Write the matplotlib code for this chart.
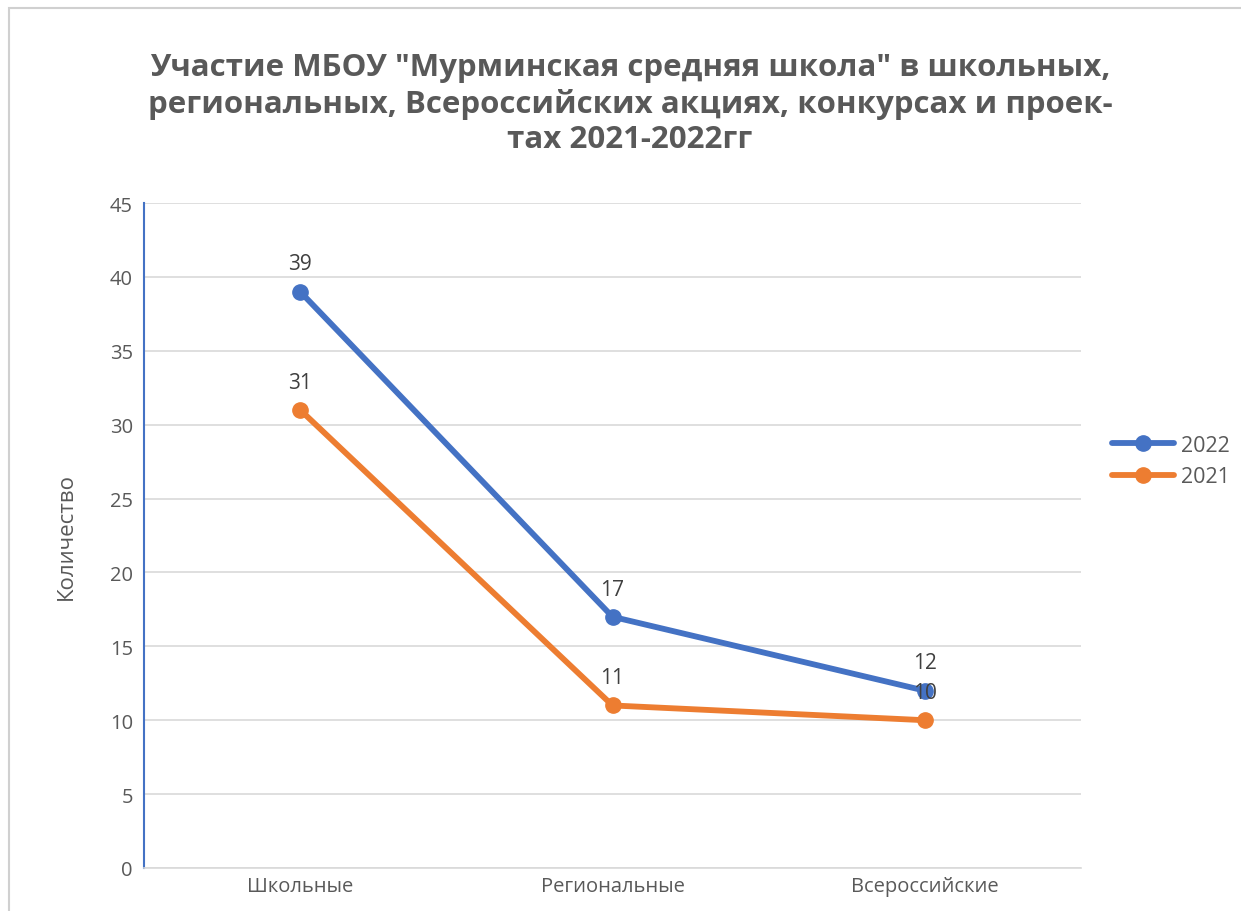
import matplotlib.pyplot as plt
from matplotlib.patches import Rectangle

# --- данные ---
categories = ['Школьные', 'Региональные', 'Всероссийские']
values_2022 = [39, 17, 12]
values_2021 = [31, 11, 10]
series_names = ['2022', '2021']

title = 'Участие МБОУ "Мурминская средняя школа" в школьных,\nрегиональных, Всероссийских акциях, конкурсах и проек-\nтах 2021-2022гг'

BLUE = '#4472C4'
ORANGE = '#ED7D31'
GREY = '#595959'

plt.rcParams['font.family'] = ['Open Sans', 'DejaVu Sans']

fig = plt.figure(figsize=(12.41, 9.12), dpi=100)

# рамка диаграммы
fig.patches.append(Rectangle((9 / 1241, -0.01), 1.02, 1 - 9 / 912 + 0.01, transform=fig.transFigure,
                             fill=False, edgecolor='#D0D0D0', linewidth=1.5))

ax = fig.add_axes([144 / 1241, 1 - 869 / 912, (1081 - 144) / 1241, (869 - 204) / 912])

x = [i + 0.5 for i in range(len(categories))]
ax.plot(x, values_2022, color=BLUE, linewidth=4.2, marker='o', markersize=11, label=series_names[0],
        solid_capstyle='round', zorder=3)
ax.plot(x, values_2021, color=ORANGE, linewidth=4.2, marker='o', markersize=11, label=series_names[1],
        solid_capstyle='round', zorder=3)

# подписи данных
for series in (values_2022, values_2021):
    for xi, v in zip(x, series):
        ax.annotate(str(v), (xi, v), xytext=(0, 20), textcoords='offset points', ha='center', va='center',
                    fontsize=15, color='#404040', zorder=4)

ax.set_xlim(0, 3)
ax.set_ylim(0, 45)
ax.set_yticks(range(0, 46, 5))
ax.set_xticks(x)
ax.set_xticklabels(categories)
ax.tick_params(axis='both', length=0, labelsize=14.5, labelcolor=GREY)
ax.tick_params(axis='y', pad=8)
ax.tick_params(axis='x', pad=6)
ax.grid(axis='y', color='#D9D9D9', linewidth=1.2)
ax.set_axisbelow(True)

for s in ['top', 'right']:
    ax.spines[s].set_visible(False)
ax.spines['left'].set_color(BLUE)
ax.spines['left'].set_linewidth(1.5)
ax.spines['bottom'].set_color('#D9D9D9')
ax.spines['bottom'].set_linewidth(1.2)

ax.set_ylabel('Количество', fontsize=16, color=GREY, labelpad=24)

fig.text(630 / 1241, 1 - 104 / 912, title, ha='center', va='center', fontsize=22.5, fontweight='bold',
         color=GREY, linespacing=1.22)

ax.legend(loc='center left', bbox_to_anchor=(1112 / 1241, 1 - 462 / 912), bbox_transform=fig.transFigure,
          frameon=False, fontsize=15.5, labelcolor=GREY, handlelength=2.9, handletextpad=0.3,
          borderaxespad=0, borderpad=0, labelspacing=0.5)

plt.savefig('out.png', dpi=100)
